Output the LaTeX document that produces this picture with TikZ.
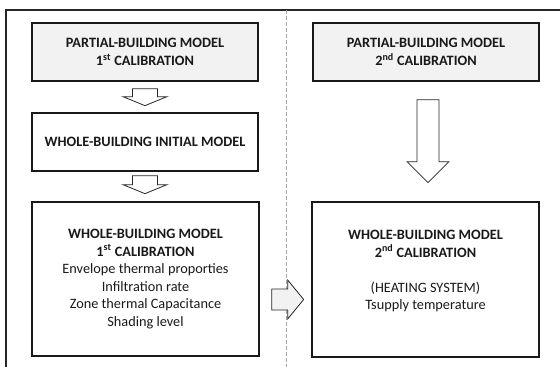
\documentclass[tikz,border=0pt]{standalone}
\usepackage{fontspec}
\setmainfont{Carlito}
\usetikzlibrary{calc}

\definecolor{boxgray}{HTML}{F2F2F2}
\definecolor{dashgray}{HTML}{A6A6A6}

\tikzset{
    stagebox/.style={draw=black!90, line width=1.3pt, minimum width=226pt,
        minimum height=58pt, align=center, inner sep=0pt, text=black!90},
    hollowarrow/.style={draw=black!85, line width=0.8pt, fill=white, line join=miter},
}

\begin{document}
\begin{tikzpicture}[x=1pt, y=-1pt, font=\fontsize{14.3}{17.5}\selectfont]
    \useasboundingbox (0,0) rectangle (560,367);

    % Frame and split line
    \draw[line width=1.5pt, black!85] (6,367) -- (6,10) -- (560,10);
    \draw[dashgray, line width=0.8pt, dash pattern=on 4pt off 2pt] (286,10) -- (286,367);

    % Left column
    \node[stagebox, fill=boxgray] (partA) at (145,52)
        {\textbf{PARTIAL-BUILDING MODEL}\\\textbf{1\textsuperscript{st} CALIBRATION}};
    \node[stagebox] (initial) at (145,142) {\textbf{WHOLE-BUILDING INITIAL MODEL}};
    \node[stagebox, minimum width=227pt, minimum height=154pt] (wholeA) at (145.5,279)
        {\textbf{WHOLE-BUILDING MODEL}\\\textbf{1\textsuperscript{st} CALIBRATION}\\
         Envelope thermal proporties\\Infiltration rate\\Zone thermal Capacitance\\Shading level};

    % Right column
    \node[stagebox, fill=boxgray] (partB) at (426,52)
        {\textbf{PARTIAL-BUILDING MODEL}\\\textbf{2\textsuperscript{nd} CALIBRATION}};
    \node[stagebox, minimum width=227pt, minimum height=155pt] (wholeB) at (425.5,279.5) {};
    \node[align=center, inner sep=0pt, text=black!90] (wholeBtext) at (425.5,271)
        {\textbf{WHOLE-BUILDING MODEL}\\\textbf{2\textsuperscript{nd} CALIBRATION}\\[17.5pt]
         (HEATING SYSTEM)\\Tsupply temperature};

    % Block arrows
    \draw[hollowarrow] (partA.south) ++(-12.5,7) -- ++(0,8) -- ++(-9.5,0) -- ++(22,9)
        -- ++(22,-9) -- ++(-9.5,0) -- ++(0,-8) -- cycle;
    \draw[hollowarrow] (initial.south) ++(-12.5,4) -- ++(0,9) -- ++(-9.5,0) -- ++(22,9)
        -- ++(22,-9) -- ++(-9.5,0) -- ++(0,-9) -- cycle;
    \draw[hollowarrow] (partB.south) ++(-9,18) -- ++(0,62) -- ++(-10,0) -- ++(21,21)
        -- ++(21,-21) -- ++(-10,0) -- ++(0,-62) -- cycle;
    \draw[hollowarrow, fill=boxgray] (wholeA.east) ++(12,10) -- ++(16,0) -- ++(0,-9)
        -- ++(16,19.5) -- ++(-16,19.5) -- ++(0,-9) -- ++(-16,0) -- cycle;
\end{tikzpicture}
\end{document}
